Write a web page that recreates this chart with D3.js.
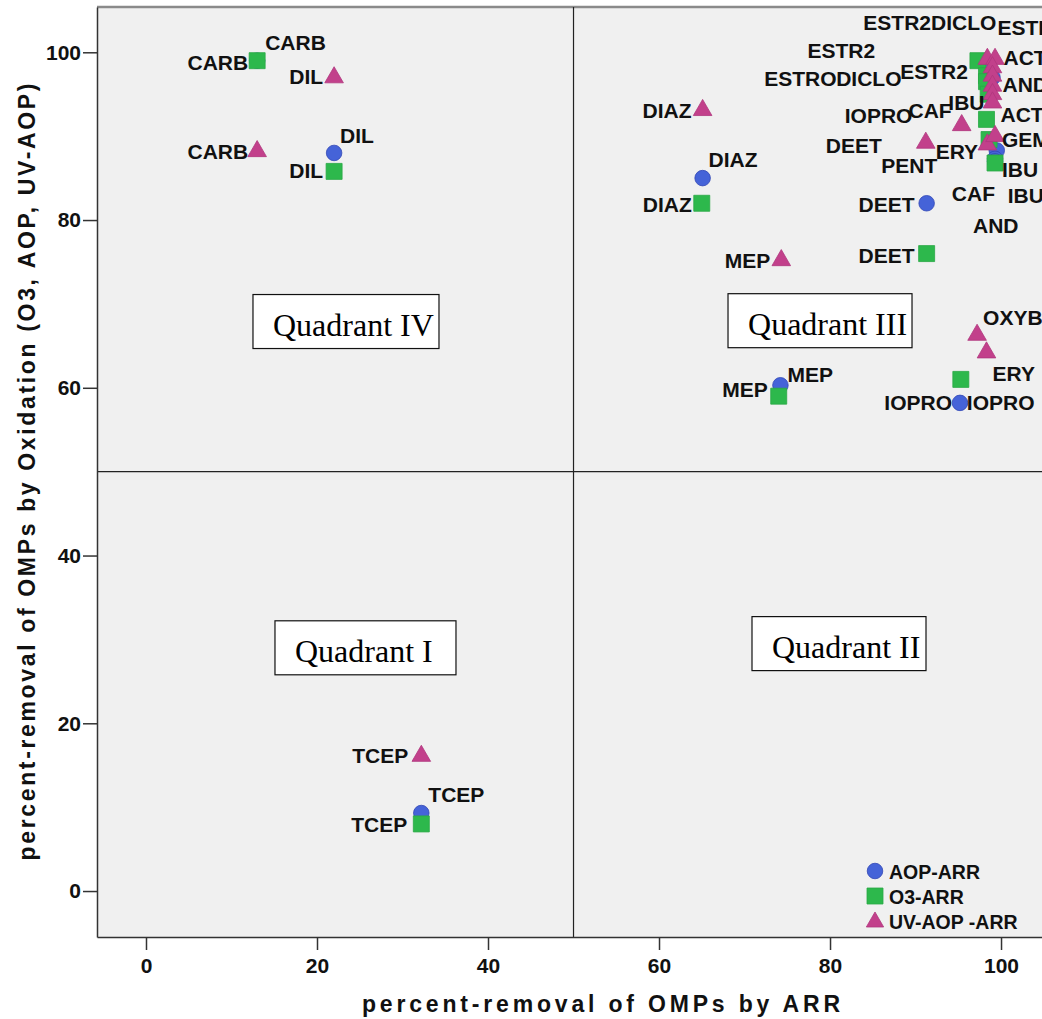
<!DOCTYPE html>
<meta charset="utf-8">
<head>
    <title>ARR vs Oxidation</title>
</head>
<style>
    body { margin: 0; background: #fff; }
    svg { display: block; }
    .axis text { font: bold 21px "Liberation Sans", Arial, sans-serif; fill: #111; }
    .axis path, .axis line { stroke: #333; stroke-width: 1.5px; }
    .lbl { font: bold 21px "Liberation Sans", Arial, sans-serif; fill: #111; }
    .title { font: bold 23px "Liberation Sans", Arial, sans-serif; fill: #111; }
    .quad text { font: 32px "Liberation Serif", "Times New Roman", serif; fill: #000; }
    .legend text { font: bold 19.5px "Liberation Sans", Arial, sans-serif; fill: #111; }
</style>
<body>
<script src="https://d3js.org/d3.v7.min.js"></script>
<script>
    // AOP-ARR (circles)
    var aopNames = ["CARB", "DIL", "DIAZ", "MEP", "DEET", "IOPRO", "TCEP", "IBU", "CAF", "AND", "ESTR2", "ACT"];
    var aopArr = [13, 22, 65.1, 74.2, 91.3, 95.2, 32.2, 99.5, 99.3, 99.3, 98.5, 99];
    var aopOx = [99, 88, 85, 60.3, 82, 58.2, 9.3, 88.3, 87.3, 87, 98.5, 97];

    // O3-ARR (squares)
    var o3Names = ["CARB", "DIL", "DIAZ", "MEP", "DEET", "IOPRO", "TCEP", "ESTR2", "ESTRO", "DICLO", "ACT", "IBU", "AND", "ERY"];
    var o3Arr = [13, 22, 65, 74, 91.3, 95.3, 32.2, 97.3, 98.3, 98.3, 98.3, 99.3, 98.5, 98.6];
    var o3Ox = [99, 85.8, 82, 59, 76, 61, 8, 99, 97.2, 96.5, 92, 86.8, 95, 89.6];

    // UV-AOP-ARR (triangles)
    var uvNames = ["CARB", "DIL", "DIAZ", "MEP", "DEET", "TCEP", "CAF", "PENT", "OXYB", "ERY", "ESTR2", "DICLO", "ESTRO", "ACT", "AND", "IBU", "GEM", "IOPRO"];
    var uvArr = [13, 22, 65.1, 74.3, 91.2, 32.2, 95.4, 98.4, 97.2, 98.3, 98.4, 99.3, 99, 99, 99, 99, 99.3, 99];
    var uvOx = [88.2, 97, 93.1, 75.2, 89.2, 16.1, 91.3, 89, 66.3, 64.2, 99.2, 99.2, 98.2, 97.2, 96, 95, 90, 94];

    var xTicks = [0, 20, 40, 60, 80, 100];
    var yTicks = [0, 20, 40, 60, 80, 100];

    var quadrants = [
        { text: "Quadrant IV", cx: 23.39, cy: 67.9, w: 186 },
        { text: "Quadrant III", cx: 78.83, cy: 68.0, w: 184 },
        { text: "Quadrant I", cx: 25.67, cy: 29.0, w: 181 },
        { text: "Quadrant II", cx: 81.05, cy: 29.5, w: 174 }
    ];

    // label placement (pixel offsets from marker, SPSS-like), not data
    var labelPlace = {
        "aop:CARB": [8, -11, "s"], "aop:DIL": [6, -10, "s"], "aop:DIAZ": [6, -11, "s"], "aop:MEP": [7, -3, "s"],
        "aop:DEET": [-12, 9, "e"], "aop:IOPRO": [-8, 7, "e"], "aop:TCEP": [7, -11, "s"], "aop:IBU": [11, 53, "s"],
        "aop:CAF": [0, 42, "e"], "aop:AND": [-22, 72, "s"], "aop:ESTR2": [-113, -7, "e"],
        "o3:CARB": [-9, 9, "e"], "o3:DIL": [-11, 7, "e"], "o3:DIAZ": [-10, 9, "e"], "o3:MEP": [-11, 1, "e"],
        "o3:DEET": [-12, 9, "e"], "o3:IOPRO": [6, 31, "s"], "o3:TCEP": [-14, 8, "e"], "o3:ESTR2": [-10, 18, "e"],
        "o3:ESTRO": [-150, 10, "e"], "o3:DICLO": [-85, 4, "e"], "o3:ACT": [14, 3, "s"], "o3:IBU": [7, 14, "s"],
        "o3:ERY": [-11, 19, "e"],
        "uv:CARB": [-9, 8, "e"], "uv:DIL": [-11, 7, "e"], "uv:DIAZ": [-11, 8, "e"], "uv:MEP": [-11, 8, "e"],
        "uv:DEET": [-44, 10, "e"], "uv:TCEP": [-13, 7, "e"], "uv:CAF": [-10, -7, "e"], "uv:PENT": [-50, 28, "e"],
        "uv:OXYB": [6, -10, "s"], "uv:ERY": [6, 28, "s"], "uv:ESTR2": [-124, -29, "s"], "uv:DICLO": [-64, -29, "s"],
        "uv:ESTRO": [5, -32, "s"], "uv:ACT": [11, -11, "s"], "uv:AND": [10, 6, "s"], "uv:IBU": [-8, 16, "e"],
        "uv:GEM": [7, 11, "s"], "uv:IOPRO": [-80, 20, "e"]
    };

    var width = 1042, height = 1019;
    var plotL = 97, plotR = 1105, plotT = 7, plotB = 937;

    var x = d3.scaleLinear().domain([-5.73, 112.16]).range([plotL, plotR]);
    var y = d3.scaleLinear().domain([-5.48, 105.4]).range([plotB, plotT]);

    var svg = d3.select("body").append("svg")
        .attr("width", width)
        .attr("height", height);

    svg.append("rect")
        .attr("x", plotL).attr("y", plotT)
        .attr("width", plotR - plotL).attr("height", plotB - plotT)
        .attr("fill", "#f0f0f0");

    svg.append("line")
        .attr("x1", plotL).attr("x2", plotR).attr("y1", plotT).attr("y2", plotT)
        .attr("stroke", "#8a8a8a").attr("stroke-width", 2.5);

    // quadrant dividers
    svg.append("line")
        .attr("x1", x(50)).attr("x2", x(50)).attr("y1", plotT).attr("y2", plotB)
        .attr("stroke", "#222").attr("stroke-width", 1.2);
    svg.append("line")
        .attr("x1", plotL).attr("x2", plotR).attr("y1", y(50)).attr("y2", y(50))
        .attr("stroke", "#222").attr("stroke-width", 1.2);

    svg.append("g").attr("class", "axis")
        .attr("transform", "translate(0," + plotB + ")")
        .call(d3.axisBottom(x).tickValues(xTicks).tickSize(13).tickSizeOuter(0).tickPadding(8).tickFormat(d3.format("d")));

    svg.append("g").attr("class", "axis")
        .attr("transform", "translate(" + plotL + ",0)")
        .call(d3.axisLeft(y).tickValues(yTicks).tickSize(14).tickSizeOuter(0).tickPadding(2).tickFormat(d3.format("d")));

    // axis titles
    svg.append("text").attr("class", "title")
        .attr("x", (plotL + plotR) / 2).attr("y", 1012)
        .attr("text-anchor", "middle")
        .attr("textLength", 478).attr("lengthAdjust", "spacing")
        .text("percent-removal of OMPs by ARR");

    svg.append("text").attr("class", "title")
        .attr("transform", "translate(35," + ((plotT + plotB) / 2) + ") rotate(-90)")
        .attr("text-anchor", "middle")
        .attr("textLength", 777).attr("lengthAdjust", "spacing")
        .text("percent-removal of OMPs by Oxidation (O3, AOP, UV-AOP)");

    // quadrant boxes
    var q = svg.selectAll(".quad").data(quadrants).enter().append("g")
        .attr("class", "quad")
        .attr("transform", function (d) { return "translate(" + (x(d.cx) - d.w / 2) + "," + (y(d.cy) - 27) + ")"; });
    q.append("rect")
        .attr("width", function (d) { return d.w; })
        .attr("height", 54)
        .attr("fill", "#fff").attr("stroke", "#111").attr("stroke-width", 1.2);
    q.append("text").attr("x", 20).attr("y", 41).text(function (d) { return d.text; });

    function series(key, names, xs, ys) {
        return names.map(function (n, i) { return { key: key, name: n, x: xs[i], y: ys[i] }; });
    }
    var aop = series("aop", aopNames, aopArr, aopOx);
    var o3 = series("o3", o3Names, o3Arr, o3Ox);
    var uv = series("uv", uvNames, uvArr, uvOx);

    var sym = {
        aop: { type: d3.symbolCircle, size: 190, fill: "#4563d8", stroke: "#3146b5" },
        o3: { type: d3.symbolSquare, size: 256, fill: "#2db84c", stroke: "#2aa845" },
        uv: { type: d3.symbolTriangle, size: 150, fill: "#c2408b", stroke: "#b0367d" }
    };

    [aop, o3, uv].forEach(function (data) {
        svg.append("g").selectAll("path")
            .data(data).enter().append("path")
            .attr("transform", function (d) { return "translate(" + x(d.x) + "," + y(d.y) + ")"; })
            .attr("d", function (d) { return d3.symbol().type(sym[d.key].type).size(sym[d.key].size)(); })
            .attr("fill", function (d) { return sym[d.key].fill; })
            .attr("stroke", function (d) { return sym[d.key].stroke; })
            .attr("stroke-width", 0.8);
    });

    var all = aop.concat(o3, uv).filter(function (d) { return labelPlace[d.key + ":" + d.name]; });
    svg.append("g").selectAll("text")
        .data(all).enter().append("text")
        .attr("class", "lbl")
        .attr("x", function (d) { return x(d.x) + labelPlace[d.key + ":" + d.name][0]; })
        .attr("y", function (d) { return y(d.y) + labelPlace[d.key + ":" + d.name][1]; })
        .attr("text-anchor", function (d) { return labelPlace[d.key + ":" + d.name][2] == "s" ? "start" : "end"; })
        .text(function (d) { return d.name; });

    // legend
    var legendItems = [["aop", "AOP-ARR"], ["o3", "O3-ARR"], ["uv", "UV-AOP -ARR"]];
    var lg = svg.append("g").attr("class", "legend").attr("transform", "translate(875,871)");
    legendItems.forEach(function (it, i) {
        var s = sym[it[0]];
        lg.append("path")
            .attr("transform", "translate(0," + (i * 25 + (it[0] == "uv" ? 1 : 0)) + ")")
            .attr("d", d3.symbol().type(s.type).size(it[0] == "uv" ? 130 : s.size)())
            .attr("fill", s.fill).attr("stroke", s.stroke).attr("stroke-width", 0.8);
        lg.append("text").attr("x", 14).attr("y", i * 25 + 8).text(it[1]);
    });
</script>
</body>
</html>
